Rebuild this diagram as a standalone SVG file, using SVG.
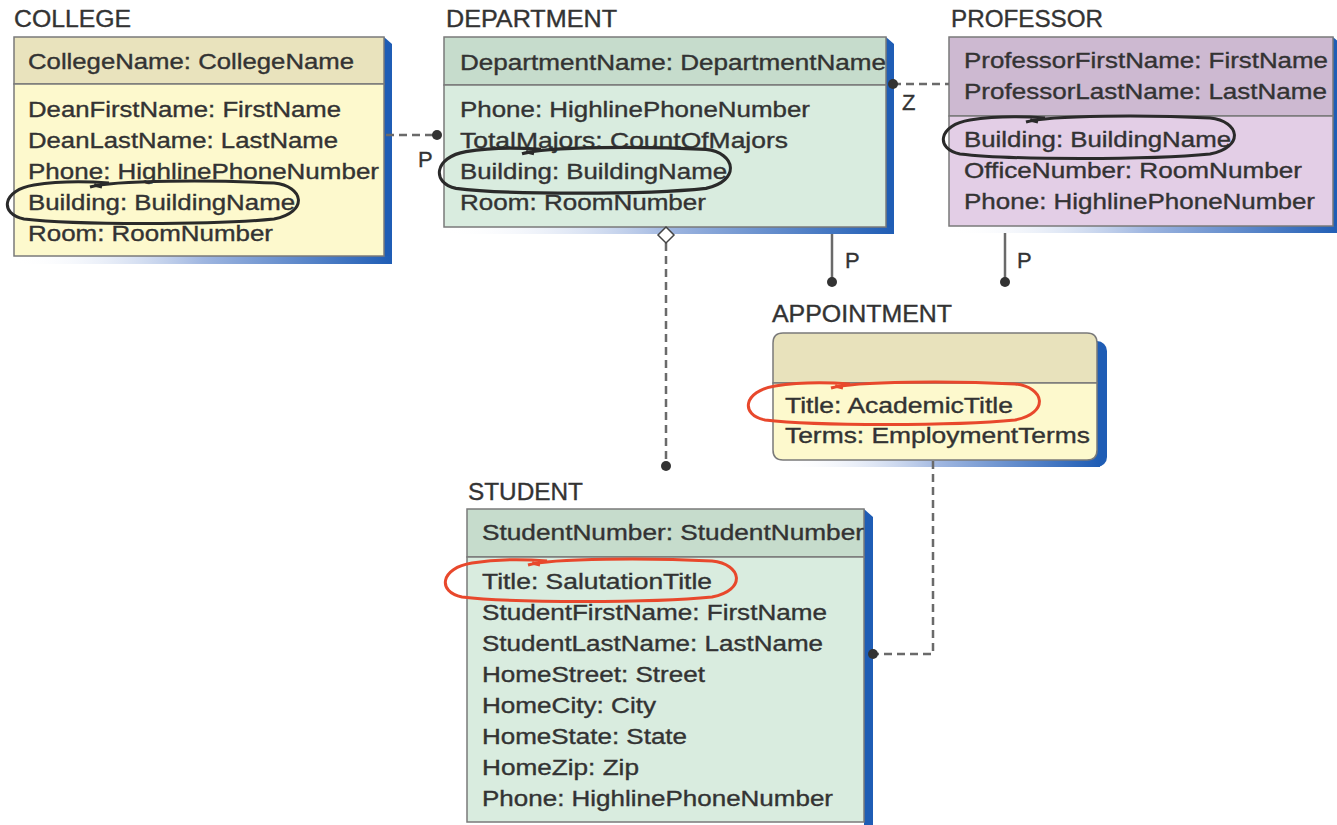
<svg xmlns="http://www.w3.org/2000/svg" width="1337" height="825" viewBox="0 0 1337 825">
<style>
text{font-family:"Liberation Sans",Arial,sans-serif;fill:#333;stroke:#333;stroke-width:0.35;}
.t{font-size:23px;}
.a{font-size:21.5px;}
.l{font-size:22px;}
.box{stroke:#7a7a7a;stroke-width:1.5;}
.sh{fill:#1f5db5;}
.shb{fill:url(#fade);}
.conn{stroke:#6a6a6a;stroke-width:2.5;fill:none;}
.dash{stroke-dasharray:8 5;}
.dot{fill:#333;}
.circ{fill:none;stroke:#2a2a2a;stroke-width:3;}
.red{fill:none;stroke:#e8482c;stroke-width:3;}
</style>
<defs>
<linearGradient id="fade" x1="0" y1="0" x2="1" y2="0">
<stop offset="0" stop-color="#ffffff" stop-opacity="0"/>
<stop offset="0.5" stop-color="#9fb6e0"/>
<stop offset="1" stop-color="#1f5db5"/>
</linearGradient>
<path id="loop" d="M -64,-15 C -40,-22 60,-22 120,-19 C 150,-16 155,10 120,17 C 60,23 -80,23 -130,17 C -155,12 -152,-12 -120,-17 C -95,-21 -70,-21 -45,-19 M -60,-17 L -52,-15"/>
<clipPath id="stuclip"><rect x="467" y="509" width="397" height="313"/></clipPath>
<clipPath id="depclip"><rect x="444" y="37" width="442" height="190"/></clipPath>
</defs>

<g id="college">
<text class="t" x="14" y="27" textLength="117" lengthAdjust="spacingAndGlyphs">COLLEGE</text>
<polygon class="sh" points="384,37 392,44 392,264 384,264"/>
<rect class="shb" x="14" y="256" width="378" height="8"/>
<rect class="box" x="14" y="37" width="370" height="47" fill="#e9e3bd"/>
<rect class="box" x="14" y="84" width="370" height="172" fill="#fdf9cd"/>
<text class="a" x="28" y="69" textLength="326" lengthAdjust="spacingAndGlyphs">CollegeName: CollegeName</text>
<text class="a" x="28" y="117" textLength="313" lengthAdjust="spacingAndGlyphs">DeanFirstName: FirstName</text>
<text class="a" x="28" y="148" textLength="310" lengthAdjust="spacingAndGlyphs">DeanLastName: LastName</text>
<text class="a" x="28" y="179" textLength="351" lengthAdjust="spacingAndGlyphs">Phone: HighlinePhoneNumber</text>
<text class="a" x="28" y="210" textLength="267" lengthAdjust="spacingAndGlyphs">Building: BuildingName</text>
<text class="a" x="28" y="241" textLength="245" lengthAdjust="spacingAndGlyphs">Room: RoomNumber</text>
<use href="#loop" class="circ" transform="translate(154,202)"/>
</g>

<g id="department">
<text class="t" x="446" y="27" textLength="171" lengthAdjust="spacingAndGlyphs">DEPARTMENT</text>
<polygon class="sh" points="886,37 894,44 894,234 886,234"/>
<rect class="shb" x="444" y="227" width="450" height="7"/>
<rect class="box" x="444" y="37" width="442" height="48" fill="#c6dccc"/>
<rect class="box" x="444" y="85" width="442" height="142" fill="#d9ecdf"/>
<text class="a" x="460" y="70" textLength="426" lengthAdjust="spacingAndGlyphs" clip-path="url(#depclip)">DepartmentName: DepartmentName</text>
<text class="a" x="460" y="117" textLength="350" lengthAdjust="spacingAndGlyphs">Phone: HighlinePhoneNumber</text>
<text class="a" x="460" y="148" textLength="328" lengthAdjust="spacingAndGlyphs">TotalMajors: CountOfMajors</text>
<text class="a" x="460" y="179" textLength="267" lengthAdjust="spacingAndGlyphs">Building: BuildingName</text>
<text class="a" x="460" y="210" textLength="246" lengthAdjust="spacingAndGlyphs">Room: RoomNumber</text>
<use href="#loop" class="circ" transform="translate(586,170) scale(1,1.08)"/>
</g>

<g id="professor">
<text class="t" x="951" y="27" textLength="152" lengthAdjust="spacingAndGlyphs">PROFESSOR</text>
<polygon class="sh" points="1333,37 1341,44 1341,233 1333,233"/>
<rect class="shb" x="949" y="226" width="392" height="7"/>
<rect class="box" x="949" y="37" width="384" height="79" fill="#cdb9d1"/>
<rect class="box" x="949" y="116" width="384" height="110" fill="#e3cee6"/>
<text class="a" x="964" y="68" textLength="364" lengthAdjust="spacingAndGlyphs">ProfessorFirstName: FirstName</text>
<text class="a" x="964" y="99" textLength="363" lengthAdjust="spacingAndGlyphs">ProfessorLastName: LastName</text>
<text class="a" x="964" y="147" textLength="267" lengthAdjust="spacingAndGlyphs">Building: BuildingName</text>
<text class="a" x="964" y="178" textLength="338" lengthAdjust="spacingAndGlyphs">OfficeNumber: RoomNumber</text>
<text class="a" x="964" y="209" textLength="351" lengthAdjust="spacingAndGlyphs">Phone: HighlinePhoneNumber</text>
<use href="#loop" class="circ" transform="translate(1090,137)"/>
</g>

<g id="appointment">
<text class="t" x="772" y="322" textLength="180" lengthAdjust="spacingAndGlyphs">APPOINTMENT</text>
<rect class="sh" x="1082" y="341" width="25" height="126" rx="10"/>
<rect class="shb" x="780" y="452" width="320" height="15"/>
<path class="box" d="M 783,333 H 1087 Q 1097,333 1097,343 V 383 H 773 V 343 Q 773,333 783,333 Z" fill="#e8e2bc"/>
<path class="box" d="M 773,383 H 1097 V 450 Q 1097,460 1087,460 H 783 Q 773,460 773,450 Z" fill="#fdf9cd"/>
<text class="a" x="785" y="413" textLength="228" lengthAdjust="spacingAndGlyphs">Title: AcademicTitle</text>
<text class="a" x="785" y="443" textLength="305" lengthAdjust="spacingAndGlyphs">Terms: EmploymentTerms</text>
<use href="#loop" class="red" transform="translate(895,403)"/>
</g>

<g id="student">
<text class="t" x="468" y="500" textLength="115" lengthAdjust="spacingAndGlyphs">STUDENT</text>
<polygon class="sh" points="864,509 873,517 873,825 864,825"/>
<rect class="box" x="467" y="509" width="397" height="48" fill="#c6dccc"/>
<rect class="box" x="467" y="557" width="397" height="265" fill="#d9ecdf"/>
<text class="a" x="482" y="540" textLength="382" lengthAdjust="spacingAndGlyphs" clip-path="url(#stuclip)">StudentNumber: StudentNumber</text>
<text class="a" x="482" y="589" textLength="230" lengthAdjust="spacingAndGlyphs">Title: SalutationTitle</text>
<text class="a" x="482" y="620" textLength="345" lengthAdjust="spacingAndGlyphs">StudentFirstName: FirstName</text>
<text class="a" x="482" y="651" textLength="341" lengthAdjust="spacingAndGlyphs">StudentLastName: LastName</text>
<text class="a" x="482" y="682" textLength="223" lengthAdjust="spacingAndGlyphs">HomeStreet: Street</text>
<text class="a" x="482" y="713" textLength="174" lengthAdjust="spacingAndGlyphs">HomeCity: City</text>
<text class="a" x="482" y="744" textLength="205" lengthAdjust="spacingAndGlyphs">HomeState: State</text>
<text class="a" x="482" y="775" textLength="157" lengthAdjust="spacingAndGlyphs">HomeZip: Zip</text>
<text class="a" x="482" y="806" textLength="351" lengthAdjust="spacingAndGlyphs">Phone: HighlinePhoneNumber</text>
<use href="#loop" class="red" transform="translate(592,580)"/>
</g>

<g id="connectors">
<line class="conn dash" x1="386" y1="135" x2="437" y2="135"/>
<circle class="dot" cx="437" cy="135" r="5"/>
<text class="l" x="418" y="167">P</text>

<line class="conn dash" x1="893" y1="84" x2="949" y2="84"/>
<circle class="dot" cx="893" cy="84" r="5"/>
<text class="l" x="902" y="110">Z</text>

<line class="conn" x1="832" y1="234" x2="832" y2="282" stroke-width="2"/>
<circle class="dot" cx="832" cy="282" r="5"/>
<text class="l" x="845" y="268">P</text>

<line class="conn" x1="1005" y1="233" x2="1005" y2="282" stroke-width="2"/>
<circle class="dot" cx="1005" cy="282" r="5"/>
<text class="l" x="1017" y="268">P</text>

<line class="conn dash" x1="666" y1="243" x2="666" y2="466"/>
<polygon points="666,227 674,235 666,243 658,235" fill="#fff" stroke="#444" stroke-width="1.5"/>
<circle class="dot" cx="666" cy="466" r="5"/>

<polyline class="conn dash" points="933,461 933,654 873,654"/>
<circle class="dot" cx="873" cy="654" r="5"/>
</g>
</svg>
